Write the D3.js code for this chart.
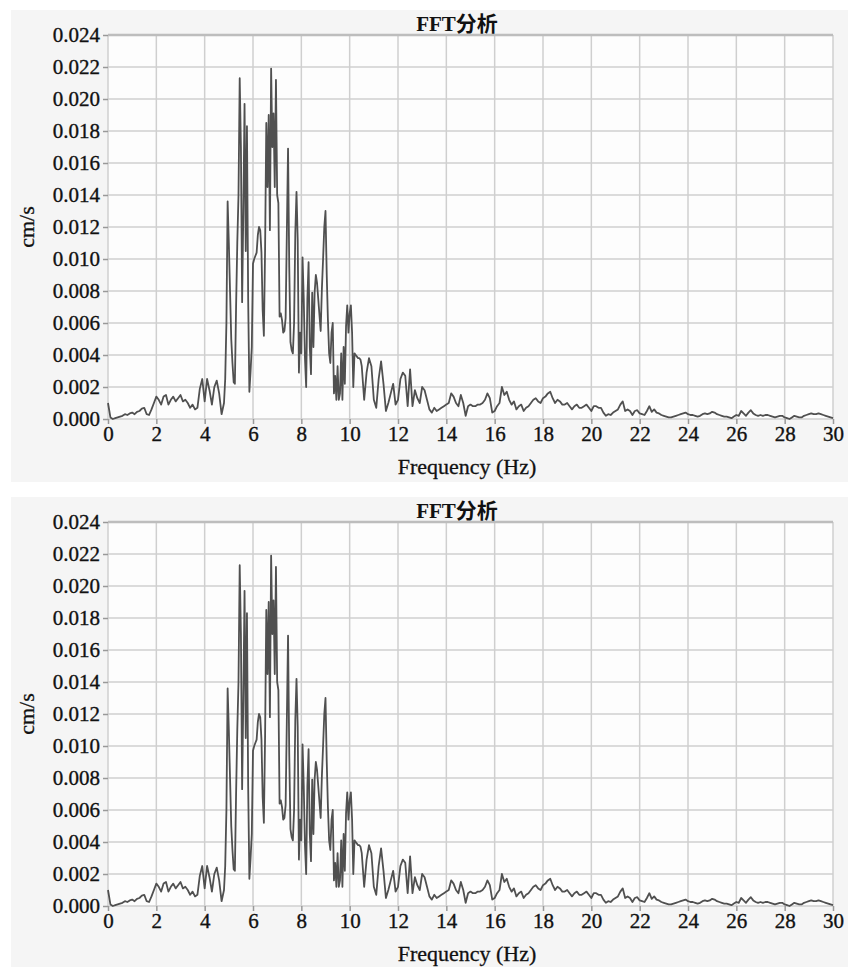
<!DOCTYPE html>
<html>
<head>
<meta charset="utf-8">
<script src="https://cdn.jsdelivr.net/npm/d3@7"></script>
<style>
  body { margin: 0; background: #fff; }
  text { font-family: "Liberation Serif", "Times New Roman", serif; fill: #111; }
</style>
</head>
<body>
<div id="chart"></div>
<script>
// amplitudes in units of 0.001 cm/s

// 0.0 .. 4.7 Hz, every 0.1 Hz
var lowBand = [
  1.0, 0.1, 0.0, 0.05, 0.1, 0.15, 0.2, 0.3, 0.25, 0.35,
  0.4, 0.3, 0.45, 0.5, 0.65, 0.7, 0.3, 0.25, 0.6, 1.0,
  1.4, 1.2, 0.9, 1.4, 1.5, 0.9, 1.2, 1.4, 1.1, 1.3,
  1.5, 1.1, 1.2, 1.0, 0.7, 0.9, 0.6, 0.7, 1.9, 2.5,
  1.1, 2.5, 1.8, 0.9, 2.0, 2.4, 1.6, 0.3
];

// 4.80 .. 10.45 Hz, every 0.05 Hz
var mainBand = [
  1.0, 2.5, 6.0, 13.6, 11.0, 8.0, 5.0, 3.5, 2.3, 2.2,
  7.0, 11.0, 14.0, 21.3, 17.0, 7.3, 13.0, 19.7, 10.5, 18.3,
  7.5, 1.7, 3.0, 4.5, 9.7, 10.0, 10.2, 10.4, 11.5, 12.0,
  11.8, 10.4, 6.8, 5.2, 10.6, 18.5, 14.5, 19.0, 11.8, 21.9,
  17.0, 19.1, 14.5, 21.2, 14.0, 13.5, 6.4, 6.6, 6.2, 5.4,
  5.5, 6.3, 11.6, 16.9, 9.5, 4.8, 4.3, 4.1, 6.0, 11.6,
  14.2, 11.2, 2.9, 5.4, 4.1, 10.1, 7.5, 3.8, 2.0, 7.5,
  9.8, 4.5, 2.8, 7.9, 4.5, 7.9, 9.0, 8.5, 7.5, 6.5,
  5.5, 8.1, 10.0, 12.0, 13.0, 9.1, 6.2, 4.1, 3.5, 5.4,
  6.0, 1.6, 2.7, 1.2, 3.3, 1.2, 1.6, 4.1, 1.2, 4.5,
  2.2, 5.8, 7.1, 5.4, 6.6, 7.1, 5.4, 2.0, 4.1, 4.0,
  3.9, 3.8, 3.8, 3.7
];

// 10.5 .. 30.0 Hz, every 0.1 Hz
var tailBand = [
  3.3, 1.2, 2.9, 3.8, 3.3,
  1.2, 0.7, 2.5, 3.6, 2.2, 0.5, 1.0, 1.6, 2.2, 0.9,
  1.2, 2.5, 2.9, 2.7, 0.8, 3.1, 0.8, 1.8, 1.3, 1.0,
  2.0, 1.8, 1.2, 0.6, 0.4, 0.7, 0.5, 0.6, 0.7, 0.8,
  0.9, 1.0, 1.6, 1.4, 1.0, 0.8, 1.5, 1.0, 0.2, 0.8,
  0.9, 0.8, 0.8, 0.9, 0.9, 1.0, 1.2, 1.6, 1.3, 0.4,
  0.5, 0.8, 1.0, 2.0, 1.5, 1.7, 1.2, 0.9, 1.1, 0.6,
  0.8, 0.9, 0.5, 0.7, 0.8, 1.0, 1.2, 1.3, 1.1, 1.0,
  1.3, 1.4, 1.6, 1.7, 1.3, 1.0, 1.2, 1.1, 0.9, 0.9,
  1.0, 0.8, 0.6, 0.8, 0.9, 0.7, 0.7, 0.8, 0.9, 0.7,
  0.5, 0.8, 0.8, 0.7, 0.7, 0.4, 0.2, 0.3, 0.25, 0.4,
  0.5, 0.6, 0.9, 1.1, 0.5, 0.6, 0.5, 0.25, 0.5, 0.55,
  0.35, 0.3, 0.25, 0.5, 0.8, 0.45, 0.6, 0.4, 0.35, 0.25,
  0.2, 0.15, 0.1, 0.1, 0.15, 0.2, 0.25, 0.3, 0.35, 0.4,
  0.3, 0.25, 0.25, 0.2, 0.15, 0.2, 0.3, 0.35, 0.3, 0.35,
  0.45, 0.4, 0.3, 0.25, 0.2, 0.15, 0.15, 0.1, 0.05, 0.15,
  0.25, 0.2, 0.5, 0.35, 0.2, 0.4, 0.55, 0.35, 0.25, 0.2,
  0.25, 0.2, 0.25, 0.25, 0.2, 0.15, 0.1, 0.15, 0.2, 0.2,
  0.1, 0.05, 0.0, 0.1, 0.2, 0.15, 0.1, 0.1, 0.2, 0.25,
  0.3, 0.35, 0.3, 0.3, 0.35, 0.3, 0.25, 0.2, 0.15, 0.1,
  0.05
];

var xTicks = [0, 2, 4, 6, 8, 10, 12, 14, 16, 18, 20, 22, 24, 26, 28, 30];
var yTicks = [0, 2, 4, 6, 8, 10, 12, 14, 16, 18, 20, 22, 24];
var yTickLabels = ['0.000', '0.002', '0.004', '0.006', '0.008', '0.010', '0.012',
  '0.014', '0.016', '0.018', '0.020', '0.022', '0.024'];

var title = 'FFT分析';
var xTitle = 'Frequency (Hz)';
var yTitle = 'cm/s';

// bins: [start frequency, step, values]
var bands = [[0, 0.1, lowBand], [4.8, 0.05, mainBand], [10.5, 0.1, tailBand]];
var spectrum = [];
bands.forEach(function(b) {
  b[2].forEach(function(v, i) {
    spectrum.push({ f: +(b[0] + i * b[1]).toFixed(2), v: v });
  });
});

var width = 848;
var height = 967;

var svg = d3.select('#chart')
  .append('svg')
  .attr('width', width)
  .attr('height', height);

var x_scale = d3.scaleLinear().domain([0, 30]).range([108, 833]);
var y_scale = d3.scaleLinear().domain([0, 24]).range([419, 35]);

function drawPanel(offset) {
  var g = svg.append('g').attr('transform', 'translate(0,' + offset + ')');

  g.append('rect')
    .attr('x', 11).attr('y', 10)
    .attr('width', width - 11).attr('height', 472)
    .attr('fill', '#f5f5f5');

  g.append('rect')
    .attr('x', x_scale(0)).attr('y', y_scale(24))
    .attr('width', x_scale(30) - x_scale(0))
    .attr('height', y_scale(0) - y_scale(24))
    .attr('fill', '#fdfdfd');

  // grid
  g.selectAll('.vgrid')
    .data(xTicks)
    .enter().append('line')
    .attr('x1', d => x_scale(d)).attr('x2', d => x_scale(d))
    .attr('y1', y_scale(24)).attr('y2', y_scale(0))
    .attr('stroke', '#cfcfcf').attr('stroke-width', 1.5);

  g.selectAll('.hgrid')
    .data(yTicks)
    .enter().append('line')
    .attr('x1', x_scale(0)).attr('x2', x_scale(30))
    .attr('y1', d => y_scale(d)).attr('y2', d => y_scale(d))
    .attr('stroke', d => d == 24 ? '#bdbdbd' : '#cfcfcf')
    .attr('stroke-width', d => d == 24 ? 2.5 : 1.5);

  // axes
  var x_axis = d3.axisBottom(x_scale)
    .tickValues(xTicks)
    .tickSize(5)
    .tickPadding(2)
    .tickFormat(d3.format('d'));

  var y_axis = d3.axisLeft(y_scale)
    .tickValues(yTicks)
    .tickSize(5)
    .tickPadding(3)
    .tickFormat((d, i) => yTickLabels[i]);

  var xa = g.append('g')
    .attr('transform', 'translate(0,' + y_scale(0) + ')')
    .call(x_axis);
  var ya = g.append('g')
    .attr('transform', 'translate(' + x_scale(0) + ',0)')
    .call(y_axis);

  [xa, ya].forEach(function(a) {
    a.select('.domain').remove();
    a.selectAll('.tick line').attr('stroke', '#999').attr('stroke-width', 1.5);
    a.selectAll('.tick text')
      .attr('font-family', '"Liberation Serif", serif')
      .attr('font-size', 21)
      .attr('fill', '#111')
      .attr('stroke', '#111')
      .attr('stroke-width', 0.35);
  });

  // spectrum line
  var line = d3.line()
    .x(d => x_scale(d.f))
    .y(d => y_scale(d.v));

  g.append('path')
    .datum(spectrum)
    .attr('fill', 'none')
    .attr('stroke', '#505050')
    .attr('stroke-width', 1.8)
    .attr('stroke-linejoin', 'round')
    .attr('d', line);

  // titles
  g.append('text')
    .attr('x', 457).attr('y', 31)
    .attr('text-anchor', 'middle')
    .attr('font-size', 21)
    .attr('font-weight', 'bold')
    .style('font-family', '"Liberation Serif", "Noto Sans CJK SC", serif')
    .text(title);

  g.append('text')
    .attr('x', 467).attr('y', 474)
    .attr('text-anchor', 'middle')
    .attr('font-size', 22)
    .attr('stroke', '#111')
    .attr('stroke-width', 0.3)
    .text(xTitle);

  g.append('text')
    .attr('transform', 'translate(34,227) rotate(-90)')
    .attr('text-anchor', 'middle')
    .attr('font-size', 22)
    .attr('stroke', '#111')
    .attr('stroke-width', 0.3)
    .text(yTitle);
}

drawPanel(0);
drawPanel(487);
</script>
</body>
</html>
